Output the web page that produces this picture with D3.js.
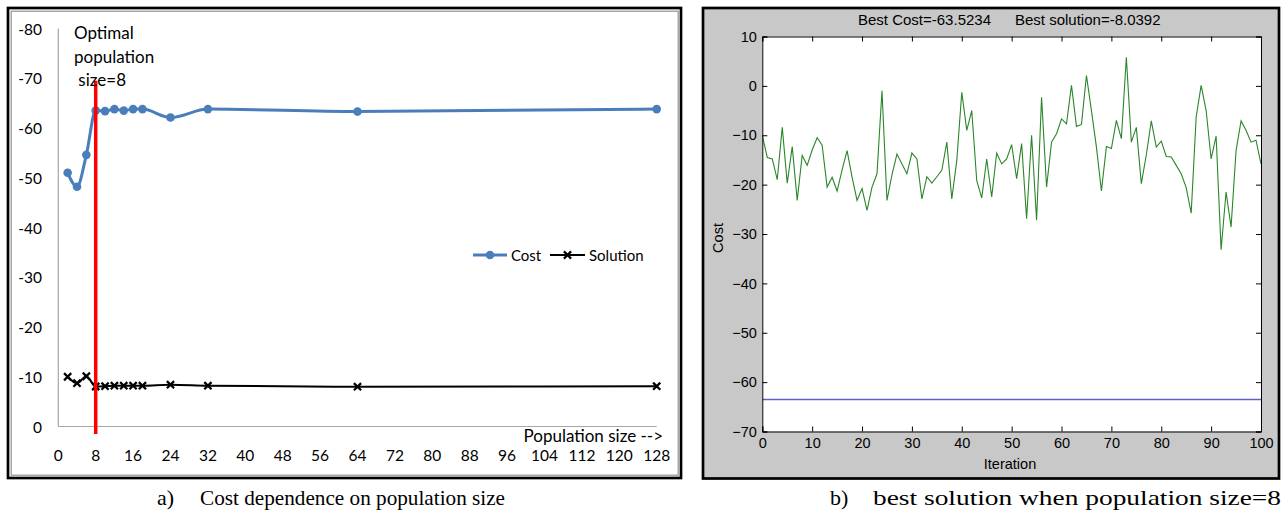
<!DOCTYPE html>
<html>
<head>
<meta charset="utf-8">
<script src="https://cdn.jsdelivr.net/npm/d3@7"></script>
<style>
  html, body { margin: 0; padding: 0; background: #ffffff; }
  svg { display: block; }
</style>
</head>
<body>
<svg id="chart" width="1288" height="517"></svg>
<script>
// ---------- Data: panel a) ----------
const popSizes       = [2, 4, 6, 8, 10, 12, 14, 16, 18, 24, 32, 64, 128];
const costValues     = [-51.0, -48.2, -54.6, -63.5, -63.4, -63.8, -63.5, -63.8, -63.8, -62.1, -63.8, -63.3, -63.8];
const solutionValues = [-10.0, -8.7, -10.1, -8.04, -8.1, -8.2, -8.2, -8.2, -8.2, -8.4, -8.2, -8.0, -8.1];
const popTicks       = [0, 8, 16, 24, 32, 40, 48, 56, 64, 72, 80, 88, 96, 104, 112, 120, 128];
const costTicks      = [0, -10, -20, -30, -40, -50, -60, -70, -80];
const optimalPop     = 8;
const optimalLabel   = ["Optimal", "population", " size=8"];
const legendLabels   = ["Cost", "Solution"];

// ---------- Data: panel b) ----------
const iterCost = [
  -10, -14.5, -14.8, -19, -8.4, -19.7, -12.3, -23.2, -14.1, -16.1,
  -13, -10.5, -12, -20.5, -18.5, -21.3, -17, -13.1, -18.5, -23.2,
  -20.8, -25.2, -20.5, -17.8, -1, -23.2, -18, -13.8, -15.8, -17.8,
  -13.6, -14.8, -22.9, -18.4, -19.7, -18.4, -17.1, -11.4, -22.9, -15.1,
  -1.3, -9, -5, -19.2, -22.7, -14.8, -22.5, -13.6, -15.8, -14.8,
  -11.9, -18.8, -11.7, -26.9, -10, -27.2, -2.3, -20.5, -11.4, -9.7,
  -6.7, -7.7, 0.1, -8.2, -7.8, 2.1, -5, -12.4, -21.3, -12.3,
  -12.7, -7, -10.7, 5.8, -11.4, -8.4, -19.8, -14, -7.1, -12.4,
  -11.2, -14.3, -14.4, -16.1, -17.8, -20.6, -25.8, -6.3, 0.1, -5,
  -14.8, -10.2, -33.2, -21.5, -28.6, -13.1, -7.1, -9, -11.4, -11,
  -15.8
];
const bestCost      = -63.5234;
const bestSolution  = -8.0392;
const iterTicks     = [0, 10, 20, 30, 40, 50, 60, 70, 80, 90, 100];
const costAxisTicks = [10, 0, -10, -20, -30, -40, -50, -60, -70];
const captions      = ["a)", "Cost dependence on population size", "b)", "best solution when population size=8"];

const svg = d3.select("#chart");

// =============== Panel a) ===============
const A = svg.append("g");
A.append("rect").attr("x", 8).attr("y", 8).attr("width", 673).attr("height", 470)
  .attr("fill", "#fff").attr("stroke", "#000").attr("stroke-width", 2.7);
A.append("rect").attr("x", 11.2).attr("y", 11.2).attr("width", 667).attr("height", 464)
  .attr("fill", "none").attr("stroke", "#9a9a9a").attr("stroke-width", 1.3);

const xa = d3.scaleLinear().domain([0, 128]).range([58.3, 656.7]);
const ya = d3.scaleLinear().domain([0, -80]).range([426.5, 28.5]);
const fontA = "Lato, 'Open Sans', sans-serif";

// axes lines
A.append("line").attr("x1", xa(0)).attr("x2", xa(0)).attr("y1", ya(-80)).attr("y2", ya(0))
  .attr("stroke", "#a6a6a6").attr("stroke-width", 1.2);
A.append("line").attr("x1", xa(0)).attr("x2", xa(128)).attr("y1", ya(0)).attr("y2", ya(0))
  .attr("stroke", "#a6a6a6").attr("stroke-width", 1.2);

// y tick labels
A.selectAll("text.yt").data(costTicks).join("text")
  .attr("class", "yt")
  .attr("x", 42).attr("y", d => ya(d) + 6)
  .attr("text-anchor", "end")
  .attr("font-family", fontA).attr("font-size", 15.5).attr("fill", "#000")
  .text(d => d);

// x tick labels
A.selectAll("text.xt").data(popTicks).join("text")
  .attr("class", "xt")
  .attr("x", d => xa(d)).attr("y", 461)
  .attr("text-anchor", "middle")
  .attr("font-family", fontA).attr("font-size", 15.5).attr("fill", "#000")
  .text(d => d);

A.append("text").attr("x", 663).attr("y", 442).attr("text-anchor", "end")
  .attr("font-family", fontA).attr("font-size", 17).attr("fill", "#000")
  .text("Population size -->");

// lines
const curve = d3.curveMonotoneX;
const costLine = d3.line().x((d, i) => xa(popSizes[i])).y(d => ya(d)).curve(curve);
const solLine  = d3.line().x((d, i) => xa(popSizes[i])).y(d => ya(d)).curve(curve);

A.append("path").attr("d", solLine(solutionValues)).attr("fill", "none")
  .attr("stroke", "#000").attr("stroke-width", 2);
A.append("path").attr("d", costLine(costValues)).attr("fill", "none")
  .attr("stroke", "#4a7ebb").attr("stroke-width", 3);

A.selectAll("circle.cm").data(costValues).join("circle")
  .attr("class", "cm")
  .attr("cx", (d, i) => xa(popSizes[i])).attr("cy", d => ya(d)).attr("r", 4.3)
  .attr("fill", "#4a7ebb");

const xMark = (g, cx, cy, s) => {
  g.append("path")
    .attr("d", `M${cx - s},${cy - s}L${cx + s},${cy + s}M${cx - s},${cy + s}L${cx + s},${cy - s}`)
    .attr("stroke", "#000").attr("stroke-width", 2.2).attr("fill", "none");
};
solutionValues.forEach((d, i) => xMark(A, xa(popSizes[i]), ya(d), 3.6));

// red optimal line
A.append("line").attr("x1", xa(optimalPop)).attr("x2", xa(optimalPop))
  .attr("y1", ya(-69.5)).attr("y2", ya(1.5))
  .attr("stroke", "#ff0000").attr("stroke-width", 3.5);

// annotation
A.selectAll("text.ann").data(optimalLabel).join("text")
  .attr("class", "ann")
  .attr("x", 74).attr("y", (d, i) => 39 + i * 23.5)
  .attr("font-family", fontA).attr("font-size", 17).attr("fill", "#000")
  .style("white-space", "pre")
  .text(d => d);

// legend
const legY = 255;
A.append("line").attr("x1", 473).attr("x2", 507).attr("y1", legY).attr("y2", legY)
  .attr("stroke", "#4a7ebb").attr("stroke-width", 3);
A.append("circle").attr("cx", 490).attr("cy", legY).attr("r", 4.3).attr("fill", "#4a7ebb");
A.append("text").attr("x", 511).attr("y", legY + 5.5).attr("font-family", fontA)
  .attr("font-size", 15).text(legendLabels[0]);
A.append("line").attr("x1", 550).attr("x2", 585).attr("y1", legY).attr("y2", legY)
  .attr("stroke", "#000").attr("stroke-width", 2);
xMark(A, 567.5, legY, 3.6);
A.append("text").attr("x", 589).attr("y", legY + 5.5).attr("font-family", fontA)
  .attr("font-size", 15).text(legendLabels[1]);

// =============== Panel b) ===============
const B = svg.append("g");
B.append("rect").attr("x", 703).attr("y", 8).attr("width", 576).attr("height", 470.5)
  .attr("fill", "#c8c8c8").attr("stroke", "#000").attr("stroke-width", 2.7);

const xb = d3.scaleLinear().domain([0, 100]).range([762.3, 1261]);
const yb = d3.scaleLinear().domain([-70, 10]).range([431.5, 36.5]);
const fontB = "'Liberation Sans', Arial, sans-serif";

B.append("rect").attr("x", xb(0)).attr("y", yb(10)).attr("width", xb(100) - xb(0))
  .attr("height", yb(-70) - yb(10)).attr("fill", "#fff");

const clip = B.append("clipPath").attr("id", "clipB");
clip.append("rect").attr("x", xb(0)).attr("y", yb(10)).attr("width", xb(100) - xb(0))
  .attr("height", yb(-70) - yb(10));

const plot = B.append("g").attr("clip-path", "url(#clipB)");
const iterLine = d3.line().x((d, i) => xb(i)).y(d => yb(d));
plot.append("path").attr("d", iterLine(iterCost)).attr("fill", "none")
  .attr("stroke", "#2a862a").attr("stroke-width", 1.1);
plot.append("line").attr("x1", xb(0)).attr("x2", xb(100))
  .attr("y1", yb(bestCost)).attr("y2", yb(bestCost))
  .attr("stroke", "#6060c8").attr("stroke-width", 1.6);

// axes via d3 axes (inner ticks)
const tl = 5;
B.append("g").attr("transform", `translate(0,${yb(-70)})`)
  .call(d3.axisBottom(xb).tickValues(iterTicks).tickSize(-tl).tickPadding(6).tickFormat(d3.format("d")))
  .call(g => g.select(".domain").attr("stroke", "#000"))
  .call(g => g.selectAll("text").attr("font-family", fontB).attr("font-size", 14.5).attr("fill", "#000"));
B.append("g").attr("transform", `translate(0,${yb(10)})`)
  .call(d3.axisTop(xb).tickValues(iterTicks).tickSize(-tl).tickFormat(""))
  .call(g => g.select(".domain").attr("stroke", "#000"));
B.append("g").attr("transform", `translate(${xb(0)},0)`)
  .call(d3.axisLeft(yb).tickValues(costAxisTicks).tickSize(-tl).tickPadding(5.5).tickFormat(d3.format("d")))
  .call(g => g.select(".domain").attr("stroke", "#000"))
  .call(g => g.selectAll("text").attr("font-family", fontB).attr("font-size", 14.5).attr("fill", "#000"));
B.append("g").attr("transform", `translate(${xb(100)},0)`)
  .call(d3.axisRight(yb).tickValues(costAxisTicks).tickSize(-tl).tickFormat(""))
  .call(g => g.select(".domain").attr("stroke", "#000"));
B.selectAll(".tick line").attr("stroke", "#000");

// title
B.append("text").attr("x", 858).attr("y", 25).attr("font-family", fontB).attr("font-size", 15)
  .text("Best Cost=" + bestCost);
B.append("text").attr("x", 1015).attr("y", 25).attr("font-family", fontB).attr("font-size", 15)
  .text("Best solution=" + bestSolution);

// axis labels
B.append("text").attr("transform", `translate(723,238) rotate(-90)`)
  .attr("text-anchor", "middle").attr("font-family", fontB).attr("font-size", 14.5)
  .text("Cost");
B.append("text").attr("x", 1010).attr("y", 469).attr("text-anchor", "middle")
  .attr("font-family", fontB).attr("font-size", 14.5).text("Iteration");

// =============== Captions ===============
const capFont = "'Liberation Serif', 'Times New Roman', serif";
svg.append("text").attr("x", 157).attr("y", 505).attr("font-family", capFont).attr("font-size", 22)
  .text(captions[0]);
svg.append("text").attr("x", 200).attr("y", 505).attr("font-family", capFont).attr("font-size", 22)
  .attr("textLength", 305).attr("lengthAdjust", "spacingAndGlyphs")
  .text(captions[1]);
svg.append("text").attr("x", 830).attr("y", 505).attr("font-family", capFont).attr("font-size", 22)
  .text(captions[2]);
svg.append("text").attr("x", 873).attr("y", 505).attr("font-family", capFont).attr("font-size", 22)
  .attr("textLength", 408).attr("lengthAdjust", "spacingAndGlyphs")
  .text(captions[3]);
</script>
</body>
</html>
